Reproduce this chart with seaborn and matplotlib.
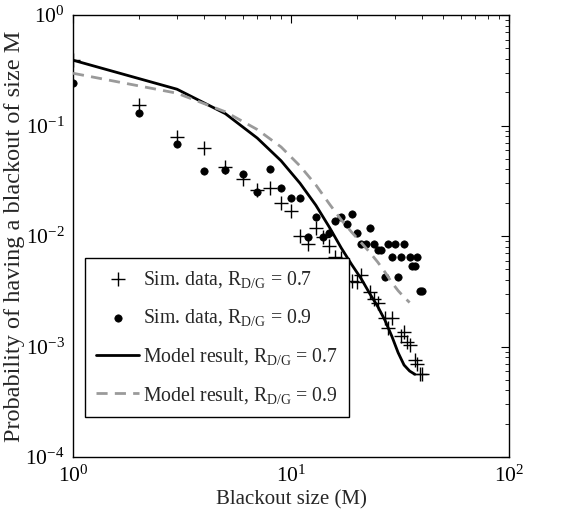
import numpy as np
import pandas as pd
import matplotlib
matplotlib.use("Agg")
import matplotlib.pyplot as plt
import seaborn as sns
from matplotlib.ticker import LogLocator, NullFormatter

# --- data ---
sim07_M = [1, 2, 3, 4, 5, 6, 7, 8, 9, 10, 11, 12, 13, 14, 15, 16, 17, 19, 20, 21,
           23, 24, 25, 27, 28, 29, 32, 33, 34, 35, 37, 38, 39, 40]
sim07_p = [0.39, 0.153, 0.079, 0.062, 0.042, 0.033, 0.026, 0.027, 0.020, 0.0168,
           0.0100, 0.0084, 0.0117, 0.0097, 0.0081, 0.0065, 0.0063, 0.0039, 0.0038, 0.0044,
           0.0031, 0.0027, 0.0025, 0.0018, 0.00146, 0.0018, 0.00124, 0.00136, 0.0011, 0.00103,
           0.00075, 0.0007, 0.00056, 0.00056]

sim09_M = [1, 2, 3, 4, 5, 6, 7, 8, 9, 10, 11, 12, 13, 14, 15, 16, 17, 18, 19, 20,
           21, 22, 23, 24, 25, 26, 27, 28, 29, 30, 31, 32, 33, 35, 36, 37, 38, 39, 40]
sim09_p = [0.244, 0.129, 0.0676, 0.0387, 0.0396, 0.0367, 0.0252, 0.0408, 0.0274, 0.0219,
           0.0219, 0.0097, 0.0148, 0.0097, 0.0106, 0.0137, 0.0148, 0.0128, 0.0157, 0.0106,
           0.0085, 0.0085, 0.0117, 0.0085, 0.0075, 0.0075, 0.0043, 0.0085, 0.0064, 0.0085,
           0.0043, 0.0064, 0.0085, 0.0064, 0.0054, 0.0054, 0.0064, 0.0032, 0.0032]

model07_M = [1, 3, 5, 7, 9, 11, 13, 15, 17, 19, 21, 23, 25, 27, 29, 31, 33, 35, 37]
model07_p = [0.39, 0.213, 0.128, 0.077, 0.048, 0.030, 0.019, 0.0120, 0.0078, 0.0055,
             0.0041, 0.0030, 0.0023, 0.00172, 0.00124, 0.00088, 0.00068, 0.0006, 0.00056]

model09_M = [1, 3, 5, 7, 9, 11, 13, 15, 17, 19, 21, 23, 25, 27, 29, 31, 33, 35]
model09_p = [0.297, 0.196, 0.133, 0.092, 0.064, 0.043, 0.029, 0.0195, 0.0140, 0.0108,
             0.0087, 0.0071, 0.0058, 0.0047, 0.0038, 0.0032, 0.0028, 0.0025]

lab_s07 = r"Sim. data, R$_{\mathrm{D/G}}$ = 0.7"
lab_s09 = r"Sim. data, R$_{\mathrm{D/G}}$ = 0.9"
lab_m07 = r"Model result, R$_{\mathrm{D/G}}$ = 0.7"
lab_m09 = r"Model result, R$_{\mathrm{D/G}}$ = 0.9"

sns.set_theme(style="white")
plt.rcParams['font.family'] = ['Liberation Serif', 'DejaVu Serif']
plt.rcParams['mathtext.fontset'] = 'custom'
plt.rcParams['mathtext.rm'] = 'Liberation Serif'
plt.rcParams['mathtext.it'] = 'Liberation Serif:italic'
plt.rcParams['mathtext.bf'] = 'Liberation Serif:bold'
plt.rcParams['axes.edgecolor'] = 'black'
plt.rcParams['axes.linewidth'] = 1.0

fig = plt.figure(figsize=(5.68, 5.17), dpi=100)
L, R, T, B = 73, 509, 15, 457
ax = fig.add_axes([L/568, 1 - B/517, (R - L)/568, (B - T)/517])

df_s07 = pd.DataFrame({"M": sim07_M, "p": sim07_p})
df_s09 = pd.DataFrame({"M": sim09_M, "p": sim09_p})
df_m07 = pd.DataFrame({"M": model07_M, "p": model07_p})
df_m09 = pd.DataFrame({"M": model09_M, "p": model09_p})

sns.scatterplot(data=df_s07, x="M", y="p", ax=ax, marker="+", s=90, color="black",
                linewidth=1.0, label=lab_s07, zorder=3)
sns.scatterplot(data=df_s09, x="M", y="p", ax=ax, marker="o", s=28, color="black",
                edgecolor="black", linewidth=0.5, label=lab_s09, zorder=3)
sns.lineplot(data=df_m07, x="M", y="p", ax=ax, color="black", linewidth=2.0,
             estimator=None, sort=False, label=lab_m07, zorder=4)
sns.lineplot(data=df_m09, x="M", y="p", ax=ax, color="#9a9a9a", linewidth=2.0,
             estimator=None, sort=False, label=lab_m09, zorder=4, dashes=False)
ax.lines[-1].set_dashes((4, 2.6))

ax.set_xscale("log")
ax.set_yscale("log")
ax.set_xlim(1, 100)
ax.set_ylim(1e-4, 1)

ax.xaxis.set_major_locator(LogLocator(base=10, numticks=10))
ax.yaxis.set_major_locator(LogLocator(base=10, numticks=10))
ax.xaxis.set_minor_locator(LogLocator(base=10, subs=np.arange(2, 10), numticks=20))
ax.yaxis.set_minor_locator(LogLocator(base=10, subs=np.arange(2, 10), numticks=20))
ax.xaxis.set_minor_formatter(NullFormatter())
ax.yaxis.set_minor_formatter(NullFormatter())
ax.tick_params(which="both", direction="in", top=True, right=True, colors="black",
               labelsize=15.5)
ax.tick_params(which="major", length=6, width=0.8, pad=6)
ax.tick_params(which="minor", length=3, width=0.6)
for s in ax.spines.values():
    s.set_visible(True)
    s.set_color("black")

ax.set_xlabel("Blackout size (M)", fontsize=15, labelpad=3)
ax.set_ylabel("Probability of having a blackout of size M", fontsize=17.5, labelpad=0)

leg = ax.legend(loc="upper left", bbox_to_anchor=(12/436, (B - 258)/442), borderaxespad=0,
                fontsize=14.2, frameon=True, fancybox=False, edgecolor="black",
                framealpha=1, labelspacing=0.9, handlelength=2.2, handletextpad=0.2,
                borderpad=0.55)
leg.get_frame().set_linewidth(1.0)

fig.savefig("out.png", dpi=100)
